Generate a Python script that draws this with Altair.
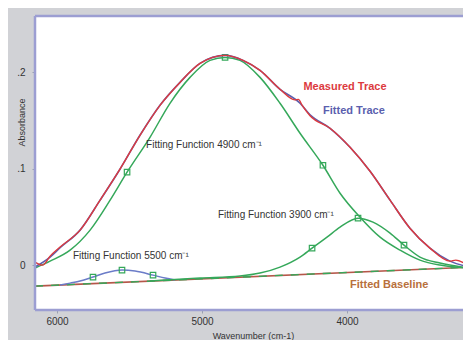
import altair as alt
import pandas as pd

# Wavenumber (cm-1) and absorbance values
meas_x = [6152, 6100, 6048, 5979, 5841, 5703, 5566, 5428, 5290, 5152, 5014, 4841, 4717, 4600, 4462,
          4360, 4335, 4310, 4255, 4117, 3979, 3841, 3703, 3566, 3428, 3290, 3250, 3152]
meas_y = [0.0031, 0.0000, 0.0093, 0.0187, 0.0363, 0.0674, 0.0995, 0.1347, 0.1658, 0.1896, 0.2093,
          0.2176, 0.2124, 0.2021, 0.1824, 0.1715, 0.1720, 0.1660, 0.1550, 0.1420, 0.1223, 0.0974,
          0.0674, 0.0383, 0.0176, 0.0041, 0.0052, -0.0021]

fit_x = [6152, 6048, 5979, 5841, 5703, 5566, 5428, 5290, 5152, 5014, 4841, 4717, 4600, 4462, 4324,
         4255, 4117, 3979, 3841, 3703, 3566, 3428, 3290, 3152]
fit_y = [-0.0020, 0.0083, 0.0180, 0.0363, 0.0674, 0.0995, 0.1347, 0.1658, 0.1896, 0.2093, 0.2176,
         0.2124, 0.2021, 0.1824, 0.1680, 0.1560, 0.1420, 0.1223, 0.0974, 0.0674, 0.0383, 0.0176,
         0.0041, -0.0021]

f4900_x = [6152, 6048, 5910, 5772, 5634, 5517, 5359, 5221, 5083, 4945, 4841, 4738, 4600, 4462, 4324,
           4166, 4048, 3910, 3772, 3634, 3497, 3359, 3152]
f4900_y = [-0.0031, 0.0041, 0.0155, 0.0363, 0.0674, 0.0964, 0.1326, 0.1679, 0.1948, 0.2124, 0.2155,
           0.2124, 0.1948, 0.1679, 0.1368, 0.1036, 0.0746, 0.0497, 0.0290, 0.0155, 0.0052, 0.0000,
           -0.0031]
f4900_mx = [5517, 4841, 4166]
f4900_my = [0.0964, 0.2155, 0.1036]

f3900_x = [5359, 5014, 4738, 4600, 4462, 4324, 4241, 4138, 4048, 3924, 3821, 3703, 3607, 3497, 3359, 3152]
f3900_y = [-0.0166, -0.0135, -0.0114, -0.0083, -0.0021, 0.0083, 0.0176, 0.0290, 0.0394, 0.0487,
           0.0446, 0.0332, 0.0207, 0.0083, 0.0021, -0.0031]
f3900_mx = [4241, 3924, 3607]
f3900_my = [0.0176, 0.0487, 0.0207]

f5500_x = [5979, 5910, 5841, 5752, 5669, 5552, 5462, 5338, 5255, 5186]
f5500_y = [-0.0207, -0.0187, -0.0166, -0.0124, -0.0083, -0.0052, -0.0062, -0.0104, -0.0135, -0.0155]
f5500_mx = [5752, 5552, 5338]
f5500_my = [-0.0124, -0.0052, -0.0104]

base_x = [6152, 3145]
base_y = [-0.0218, -0.0021]

lab_text = ["Measured Trace", "Fitted Trace", "Fitting Function 4900 cm\u207b\u00b9",
            "Fitting Function 3900 cm\u207b\u00b9", "Fitting Function 5500 cm\u207b\u00b9", "Fitted Baseline"]
lab_x = [4014, 3952, 5386, 4890, 5890, 3979]
lab_y = [0.1845, 0.1596, 0.1244, 0.0518, 0.0093, -0.0207]

X_DOM = [3200, 6152]
Y_DOM = [-0.0466, 0.2585]

W, H = 428, 294

xs = alt.Scale(domain=X_DOM, reverse=True, nice=False, zero=False)
ys = alt.Scale(domain=Y_DOM, nice=False, zero=False)

xax = alt.Axis(values=[6000, 5000, 4000], format="d", title="Wavenumber (cm-1)", grid=False,
               domain=False, tickSize=3, tickColor="#9aa0b0", labelPadding=3, labelFontSize=10,
               labelColor="#333333", labelFont="Liberation Sans", titleFont="Liberation Sans",
               titleFontSize=9, titleFontWeight="normal", titleColor="#333333", titleY=25,
               titleX=218, titleBaseline="middle")
yax = alt.Axis(values=[0, 0.1, 0.2], grid=False, domain=False, tickSize=3, tickColor="#9aa0b0",
               labelExpr="datum.value == 0 ? '0' : replace(format(datum.value, '.1f'), '0.', '.')",
               labelPadding=7, labelFontSize=10, labelColor="#333333", labelFont="Liberation Sans",
               title="Absorbance", titleFont="Liberation Sans", titleFontSize=9,
               titleFontWeight="normal", titleColor="#333333", titleX=-14, titleY=106,
               titleAngle=-90, titleAlign="center", titleBaseline="middle")


def enc_xy(chart):
    return chart.encode(
        x=alt.X("x:Q", scale=xs, axis=xax),
        y=alt.Y("y:Q", scale=ys, axis=yax),
    )


def line_layer(xv, yv, color, width=1.6, dash=None):
    df = pd.DataFrame({"x": xv, "y": yv})
    kw = dict(color=color, strokeWidth=width, interpolate="monotone", clip=True)
    if dash is not None:
        kw["strokeDash"] = dash
    return enc_xy(alt.Chart(df).mark_line(**kw))


def marker_layer(xv, yv, color):
    df = pd.DataFrame({"x": xv, "y": yv})
    return enc_xy(alt.Chart(df).mark_point(shape="square", filled=False, size=30, color=color,
                                           strokeWidth=1.2, opacity=1))


GREEN = "#35a85a"
RED = "#dc3a3e"
BLUE = "#5b5fae"
BROWN = "#b5574a"
FRAME = "#9c9ed2"

frame_df = pd.DataFrame({"k": [0]})
frame = [
    alt.Chart(frame_df).mark_rule(color=FRAME, strokeWidth=2.5).encode(
        x=alt.value(0), y=alt.value(0), y2=alt.value(H)),
    alt.Chart(frame_df).mark_rule(color=FRAME, strokeWidth=2.5).encode(
        x=alt.value(0), x2=alt.value(W), y=alt.value(0)),
    alt.Chart(frame_df).mark_rule(color=FRAME, strokeWidth=2.5).encode(
        x=alt.value(0), x2=alt.value(W), y=alt.value(H)),
]

layers = [
    line_layer(base_x, base_y, BROWN, 1.6),
    line_layer(base_x, base_y, GREEN, 1.4, dash=[8, 8]),
    line_layer(f5500_x, f5500_y, "#6b7cc8", 1.5),
    marker_layer(f5500_mx, f5500_my, GREEN),
    line_layer(f3900_x, f3900_y, GREEN, 1.5),
    marker_layer(f3900_mx, f3900_my, GREEN),
    line_layer(f4900_x, f4900_y, GREEN, 1.5),
    marker_layer(f4900_mx, f4900_my, GREEN),
    line_layer(fit_x, fit_y, BLUE, 1.6),
    line_layer(meas_x, meas_y, RED, 1.4),
]

labels = pd.DataFrame({"t": lab_text, "x": lab_x, "y": lab_y,
                       "c": [RED, BLUE, "#333333", "#333333", "#333333", "#b8703c"],
                       "w": ["bold", "bold", "normal", "normal", "normal", "bold"],
                       "a": ["center", "center", "left", "left", "left", "left"]})

for i in range(len(labels)):
    row = labels.iloc[[i]]
    bold = row["w"].iloc[0] == "bold"
    layers.append(
        enc_xy(alt.Chart(row).mark_text(align=row["a"].iloc[0], baseline="middle",
                                        font="Liberation Sans", fontSize=11 if bold else 10,
                                        fontWeight=row["w"].iloc[0], color=row["c"].iloc[0])
               ).encode(text="t:N")
    )

chart = alt.layer(*layers, *frame).properties(
    width=W, height=H,
    autosize=alt.AutoSizeParams(type="none"),
    padding={"left": 27, "top": 8, "right": 0, "bottom": 30},
    background="#d1d2d6",
).configure_view(
    fill="white", stroke=None
)

chart.save("out.html", embed_options={"renderer": "svg", "actions": False})
